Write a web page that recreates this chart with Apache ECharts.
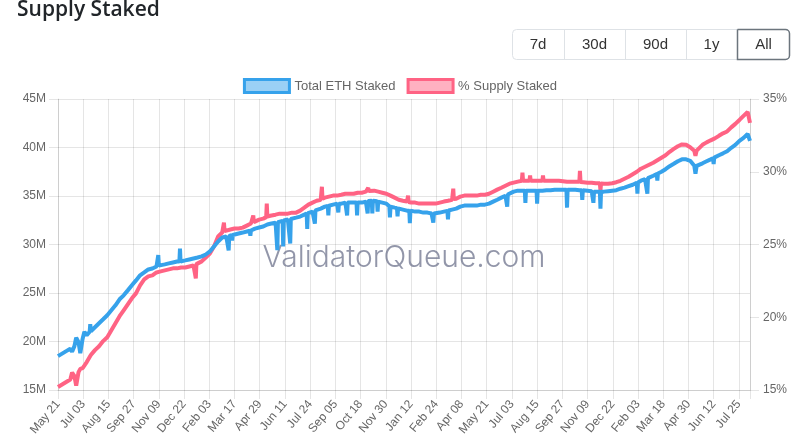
<!DOCTYPE html>
<html>
<head>
<meta charset="utf-8">
<title>Supply Staked</title>
<script src="https://cdn.jsdelivr.net/npm/echarts@6/dist/echarts.min.js"></script>
<style>
  html, body { margin: 0; padding: 0; background: #fff; }
  #chart { width: 800px; height: 445px; }
</style>
</head>
<body>
<div id="chart"></div>
<script>
// x = days since 2023-05-21
var startDate = Date.UTC(2023, 4, 21);

// Total ETH Staked (millions)
var ethDays = [
    0, 7, 14, 21, 24, 28, 31, 35, 38, 42, 45, 49, 54, 55, 56, 63, 70, 77, 84, 91,
    98, 105, 112, 119, 126, 133, 140, 147, 154, 161, 168, 170, 171, 172, 175, 182, 189, 196, 203, 207,
    208, 209, 210, 217, 224, 231, 238, 245, 252, 259, 266, 273, 280, 287, 290, 291, 292, 294, 296, 297,
    298, 301, 308, 315, 322, 327, 328, 329, 336, 343, 350, 357, 364, 371, 373, 374, 375, 378, 383, 384,
    385, 392, 395, 396, 397, 399, 406, 413, 420, 424, 425, 426, 427, 434, 437, 438, 439, 441, 448, 455,
    460, 461, 462, 469, 476, 477, 478, 479, 483, 490, 492, 493, 494, 497, 504, 509, 510, 511, 518, 525,
    527, 528, 529, 532, 535, 536, 537, 539, 544, 545, 546, 553, 560, 565, 566, 567, 574, 578, 579, 580,
    581, 588, 595, 599, 600, 601, 602, 609, 616, 623, 630, 637, 639, 640, 641, 644, 651, 658, 664, 665,
    666, 672, 679, 686, 693, 700, 707, 714, 721, 728, 735, 742, 749, 756, 763, 765, 766, 767, 770, 777,
    784, 791, 796, 797, 798, 805, 812, 816, 817, 818, 819, 826, 833, 840, 847, 854, 861, 867, 868, 869,
    875, 882, 889, 893, 894, 895, 896, 903, 910, 912, 913, 914, 917, 924, 925, 926, 931, 938, 945, 952,
    959, 966, 973, 980, 987, 988, 989, 994, 1001, 1004, 1005, 1006, 1008, 1015, 1021, 1022, 1023, 1029, 1036, 1043,
    1050, 1057, 1064, 1071, 1078, 1085, 1087, 1089, 1092, 1099, 1106, 1113, 1117, 1118, 1119, 1120, 1127, 1134, 1141, 1148,
    1155, 1162, 1169, 1176, 1179, 1180
];
var ethStaked = [
    18.49, 18.75, 19.01, 19.26, 18.95, 19.52, 20.40, 19.93, 18.80, 20.29, 21.00, 20.65, 21.00, 21.80, 21.06, 21.47, 21.88, 22.29, 22.71, 23.22,
    23.73, 24.35, 24.76, 25.27, 25.79, 26.30, 26.82, 27.12, 27.43, 27.53, 27.74, 27.80, 28.90, 27.82, 27.84, 27.95, 28.05, 28.15, 28.25, 28.25,
    29.59, 28.25, 28.25, 28.36, 28.46, 28.56, 28.66, 28.77, 28.97, 29.28, 29.80, 30.31, 30.72, 30.82, 30.85, 29.38, 30.88, 30.93, 30.95, 30.40,
    30.98, 31.03, 31.13, 31.23, 31.34, 31.41, 30.90, 31.44, 31.64, 31.75, 31.85, 32.06, 32.16, 32.26, 32.28, 29.41, 32.30, 32.36, 32.44, 29.80,
    32.47, 32.57, 32.61, 30.10, 32.63, 32.67, 32.77, 32.88, 33.08, 33.20, 31.60, 33.24, 33.29, 33.39, 33.48, 32.15, 33.52, 33.60, 33.70, 33.90,
    33.98, 33.00, 34.00, 34.11, 34.21, 34.21, 33.30, 34.21, 34.21, 34.32, 34.32, 33.00, 34.32, 34.32, 34.32, 34.32, 33.00, 34.32, 34.32, 34.42,
    34.45, 33.20, 34.48, 34.52, 34.52, 33.20, 34.52, 34.52, 34.45, 33.40, 34.42, 34.32, 34.21, 33.95, 32.80, 33.90, 33.80, 33.75, 32.90, 33.72,
    33.70, 33.60, 33.49, 33.49, 32.20, 33.49, 33.49, 33.39, 33.39, 33.29, 33.29, 33.19, 33.19, 32.26, 33.19, 33.19, 33.29, 33.39, 33.47, 32.60,
    33.50, 33.60, 33.70, 33.90, 34.01, 34.01, 34.01, 34.01, 34.11, 34.11, 34.21, 34.42, 34.62, 34.83, 35.03, 35.10, 33.90, 35.15, 35.24, 35.45,
    35.55, 35.55, 35.55, 34.30, 35.55, 35.55, 35.55, 35.55, 34.20, 35.55, 35.55, 35.55, 35.60, 35.60, 35.65, 35.65, 35.65, 35.65, 33.80, 35.65,
    35.65, 35.65, 35.60, 35.60, 34.60, 35.60, 35.60, 35.55, 35.50, 35.46, 34.30, 35.45, 35.45, 35.45, 33.70, 35.45, 35.45, 35.50, 35.55, 35.60,
    35.75, 35.86, 36.01, 36.16, 36.37, 35.24, 36.40, 36.58, 36.73, 36.80, 35.24, 36.84, 36.88, 37.09, 37.26, 36.60, 37.32, 37.50, 37.76, 38.07,
    38.32, 38.58, 38.78, 38.78, 38.63, 38.12, 37.30, 38.10, 38.12, 38.37, 38.58, 38.78, 38.90, 38.30, 38.96, 38.99, 39.20, 39.40, 39.61, 39.97,
    40.27, 40.69, 40.99, 41.40, 41.51, 40.69
];

// % Supply Staked
var pctDays = [
    0, 7, 14, 21, 24, 28, 31, 35, 38, 42, 45, 49, 56, 63, 70, 77, 84, 91, 98, 105,
    112, 119, 126, 133, 140, 147, 154, 161, 168, 175, 182, 189, 196, 203, 210, 217, 224, 231, 234, 235,
    236, 238, 245, 252, 259, 266, 273, 280, 282, 283, 284, 287, 294, 301, 308, 315, 322, 329, 332, 333,
    334, 336, 343, 350, 355, 356, 357, 364, 371, 378, 385, 392, 399, 406, 413, 420, 427, 434, 441, 448,
    449, 450, 451, 455, 462, 469, 476, 483, 490, 497, 504, 511, 518, 525, 528, 529, 530, 532, 539, 546,
    553, 560, 567, 574, 581, 588, 595, 596, 597, 598, 602, 609, 616, 623, 630, 637, 644, 651, 658, 665,
    672, 673, 674, 675, 679, 686, 693, 700, 707, 714, 721, 728, 735, 742, 749, 756, 763, 770, 777, 784,
    791, 792, 793, 798, 804, 805, 806, 812, 819, 826, 827, 828, 833, 840, 847, 854, 861, 868, 875, 882,
    889, 890, 891, 896, 903, 910, 917, 924, 925, 926, 931, 938, 945, 952, 959, 966, 973, 980, 987, 994,
    1001, 1008, 1015, 1022, 1029, 1036, 1043, 1050, 1057, 1064, 1071, 1078, 1085, 1087, 1089, 1092, 1099, 1106, 1113, 1120,
    1127, 1134, 1141, 1148, 1155, 1162, 1169, 1176, 1179, 1180
];
var supplyPct = [
    15.21, 15.38, 15.55, 15.72, 16.20, 15.96, 15.30, 16.23, 16.45, 16.51, 16.60, 16.92, 17.40, 17.74, 18.01, 18.36, 18.63, 19.11, 19.59, 20.07,
    20.48, 20.89, 21.30, 21.64, 22.19, 22.60, 22.81, 22.88, 23.08, 23.15, 23.22, 23.29, 23.36, 23.36, 23.42, 23.42, 23.49, 23.56, 23.62, 22.67,
    23.65, 23.70, 23.84, 24.11, 24.38, 24.86, 25.55, 25.82, 25.88, 26.51, 25.92, 25.96, 26.03, 26.10, 26.10, 26.16, 26.30, 26.44, 26.50, 26.99,
    26.54, 26.58, 26.71, 26.78, 26.88, 27.81, 26.92, 26.99, 27.05, 27.12, 27.12, 27.12, 27.19, 27.19, 27.33, 27.53, 27.74, 27.88, 28.01, 28.08,
    28.10, 28.97, 28.14, 28.22, 28.29, 28.36, 28.36, 28.42, 28.49, 28.49, 28.49, 28.56, 28.56, 28.63, 28.66, 28.90, 28.68, 28.70, 28.70, 28.63,
    28.56, 28.49, 28.36, 28.22, 28.08, 28.01, 27.95, 27.94, 28.36, 27.92, 27.88, 27.88, 27.81, 27.81, 27.81, 27.81, 27.81, 27.88, 27.95, 28.01,
    28.08, 28.10, 28.84, 28.12, 28.15, 28.29, 28.36, 28.36, 28.36, 28.36, 28.42, 28.42, 28.49, 28.63, 28.77, 28.90, 29.04, 29.18, 29.25, 29.32,
    29.38, 29.93, 29.38, 29.38, 29.38, 29.75, 29.38, 29.38, 29.38, 29.38, 29.75, 29.38, 29.38, 29.38, 29.38, 29.38, 29.35, 29.31, 29.31, 29.31,
    29.31, 30.07, 29.30, 29.28, 29.25, 29.25, 29.21, 29.21, 28.70, 29.20, 29.18, 29.18, 29.21, 29.28, 29.38, 29.52, 29.66, 29.83, 30.00, 30.21,
    30.34, 30.48, 30.62, 30.79, 30.96, 31.13, 31.37, 31.57, 31.75, 31.88, 31.85, 31.68, 31.44, 31.10, 31.45, 31.57, 31.85, 32.02, 32.16, 32.29,
    32.47, 32.64, 32.77, 33.05, 33.29, 33.56, 33.84, 34.11, 34.18, 33.36
];

var buttonLabels = ['7d', '30d', '90d', '1y', 'All'];
var months = ['Jan', 'Feb', 'Mar', 'Apr', 'May', 'Jun', 'Jul', 'Aug', 'Sep', 'Oct', 'Nov', 'Dec'];

var FONT = '"Liberation Sans", Arial, sans-serif';
var GRID_COLOR = 'rgba(0,0,0,0.1)';

// tick labels every 43 days, like the original
function dayLabel(d) {
    if (d % 43 !== 0) return '';
    var dt = new Date(startDate + d * 86400000);
    var dd = dt.getUTCDate();
    return months[dt.getUTCMonth()] + ' ' + (dd < 10 ? '0' + dd : dd);
}

var chartDom = document.getElementById('chart');
var myChart = echarts.init(chartDom);

// range buttons (top right)
var btnX = [512, 564, 625, 686, 737, 790];
var btnGraphics = [{
    type: 'rect',
    shape: { x: 512.5, y: 29.5, width: 277, height: 30, r: 4 },
    style: { fill: '#fff', stroke: '#dee2e6', lineWidth: 1 }
}];
for (var i = 1; i < 4; i++) {
    btnGraphics.push({
        type: 'line',
        shape: { x1: btnX[i] + 0.5, y1: 30, x2: btnX[i] + 0.5, y2: 59 },
        style: { stroke: '#dee2e6', lineWidth: 1 }
    });
}
btnGraphics.push({
    type: 'rect',
    shape: { x: 737.5, y: 29.5, width: 52, height: 30, r: [0, 4, 4, 0] },
    style: { fill: 'rgba(0,0,0,0)', stroke: '#6c757d', lineWidth: 1.5 }
});
for (var j = 0; j < buttonLabels.length; j++) {
    btnGraphics.push({
        type: 'text',
        style: {
            text: buttonLabels[j],
            x: (btnX[j] + btnX[j + 1]) / 2,
            y: 45,
            align: 'center',
            verticalAlign: 'middle',
            font: '15px ' + FONT,
            fill: '#333'
        }
    });
}

var option = {
    animation: false,
    graphic: [
        {
            type: 'text',
            style: {
                text: 'Supply Staked',
                x: 17,
                y: 10,
                verticalAlign: 'middle',
                font: '600 21px "Open Sans", sans-serif',
                fill: '#212529'
            }
        },
        {
            type: 'text',
            z: 1,
            style: {
                text: 'ValidatorQueue.com',
                x: 404,
                y: 258,
                align: 'center',
                verticalAlign: 'middle',
                font: '300 30px Inter, sans-serif',
                fill: 'rgba(110,115,140,0.75)'
            }
        }
    ].concat(btnGraphics),
    legend: {
        top: 73,
        left: 'center',
        icon: 'rect',
        itemWidth: 45,
        itemHeight: 13,
        itemGap: 11,
        textStyle: { color: '#666', fontSize: 13, fontFamily: FONT },
        data: [
            { name: 'Total ETH Staked', itemStyle: { color: 'rgba(54,162,235,0.5)', borderColor: '#36a2eb', borderWidth: 3 } },
            { name: '% Supply Staked', itemStyle: { color: 'rgba(255,99,132,0.5)', borderColor: '#ff6384', borderWidth: 3 } }
        ]
    },
    grid: { left: 58, right: 50, top: 99, bottom: 55 },
    xAxis: {
        type: 'value',
        min: 0,
        max: 1180,
        interval: 43,
        axisLine: { show: true, lineStyle: { color: GRID_COLOR } },
        axisTick: { show: true, length: 9, lineStyle: { color: GRID_COLOR } },
        splitLine: { show: true, lineStyle: { color: GRID_COLOR } },
        axisLabel: {
            rotate: 50,
            margin: 12,
            color: '#666',
            fontSize: 12,
            fontFamily: FONT,
            formatter: dayLabel
        }
    },
    yAxis: [
        {
            type: 'value',
            min: 15,
            max: 45,
            interval: 5,
            axisLine: { show: true, lineStyle: { color: GRID_COLOR } },
            axisTick: { show: true, length: 9, lineStyle: { color: GRID_COLOR } },
            splitLine: { show: true, lineStyle: { color: GRID_COLOR } },
            axisLabel: { margin: 12, color: '#666', fontSize: 12, fontFamily: FONT, formatter: '{value}M' }
        },
        {
            type: 'value',
            min: 15,
            max: 35,
            interval: 5,
            position: 'right',
            axisLine: { show: true, lineStyle: { color: GRID_COLOR } },
            axisTick: { show: true, length: 9, lineStyle: { color: GRID_COLOR } },
            splitLine: { show: false },
            axisLabel: { margin: 13, color: '#666', fontSize: 12, fontFamily: FONT, formatter: '{value}%' }
        }
    ],
    series: [
        {
            name: '% Supply Staked',
            type: 'line',
            yAxisIndex: 1,
            showSymbol: false,
            z: 3,
            color: '#ff6384',
            lineStyle: { color: '#ff6384', width: 4 },
            data: pctDays.map(function (d, k) { return [d, supplyPct[k]]; })
        },
        {
            name: 'Total ETH Staked',
            type: 'line',
            yAxisIndex: 0,
            showSymbol: false,
            z: 4,
            color: '#36a2eb',
            lineStyle: { color: '#36a2eb', width: 4 },
            data: ethDays.map(function (d, k) { return [d, ethStaked[k]]; })
        }
    ]
};

option && myChart.setOption(option);

window.onresize = function () {
    myChart.resize();
};
</script>
</body>
</html>
